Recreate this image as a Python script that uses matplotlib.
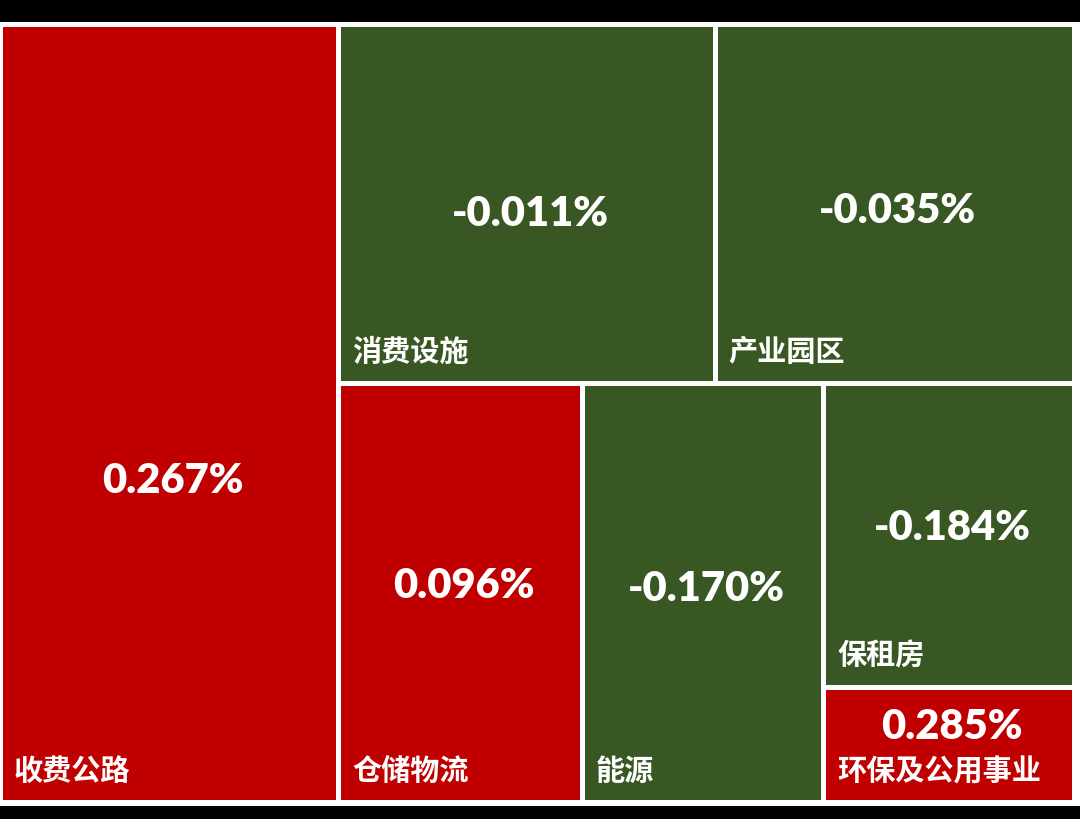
import matplotlib
matplotlib.use("Agg")
import matplotlib.pyplot as plt
from matplotlib.patches import Rectangle

# ---- data ----
names = ['收费公路', '消费设施', '产业园区', '仓储物流', '能源', '保租房', '环保及公用事业']
sizes = [260.1, 133.3, 127.4, 100.8, 100.0, 75.3, 28.6]
changes = [0.267, -0.011, -0.035, 0.096, -0.170, -0.184, 0.285]

# treemap nesting (indices into the lists above): 'h' = side by side, 'v' = stacked
layout = ('h', [0, ('v', [('h', [1, 2]), ('h', [3, 4, ('v', [5, 6])])])])

# value label vertical placement (fraction of tile height from top)
value_pos = [0.587, 0.53, 0.52, 0.483, 0.49, 0.475, 0.34]

RED = '#C00000'
GREEN = '#385723'
W, H = 1080, 819
X0, Y0, X1, Y1 = 0.5, 24.5, 1074.5, 802.5
GAP = 2.5


def total(node):
    if isinstance(node, int):
        return sizes[node]
    return sum(total(c) for c in node[1])


def place(node, x, y, w, h, out):
    if isinstance(node, int):
        out[node] = (x, y, w, h)
        return
    kind, children = node
    tot = sum(total(c) for c in children)
    pos = 0.0
    for c in children:
        frac = total(c) / tot
        if kind == 'h':
            place(c, x + pos * w, y, frac * w, h, out)
        else:
            place(c, x, y + pos * h, w, frac * h, out)
        pos += frac


rects = {}
place(layout, X0, Y0, X1 - X0, Y1 - Y0, rects)

fig = plt.figure(figsize=(W / 100, H / 100), dpi=100)
fig.patch.set_facecolor('white')
ax = fig.add_axes([0, 0, 1, 1])
ax.set_xlim(0, W)
ax.set_ylim(H, 0)
ax.axis('off')

# black bands top & bottom
ax.add_patch(Rectangle((0, 0), W, 22, color='black', lw=0))
ax.add_patch(Rectangle((0, 806), W, H - 806, color='black', lw=0))

for i, name in enumerate(names):
    x, y, w, h = rects[i]
    col = RED if changes[i] >= 0 else GREEN
    ax.add_patch(Rectangle((x + GAP, y + GAP), w - 2 * GAP, h - 2 * GAP,
                           facecolor=col, edgecolor='none'))
    ax.text(x + w / 2 + 3, y + GAP + (h - 2 * GAP) * value_pos[i], f'{changes[i]:.3f}%',
            ha='center', va='center', color='white', fontsize=30,
            fontweight='heavy', family=['Lato', 'DejaVu Sans'])
    ax.text(x + GAP + 11, y + h - GAP - 29, name, ha='left', va='center',
            color='white', fontsize=21, fontweight='bold',
            family=['Noto Sans CJK SC', 'DejaVu Sans'])

fig.savefig('out.png', dpi=100, facecolor='white')
